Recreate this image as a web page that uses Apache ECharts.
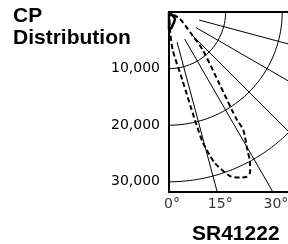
<!DOCTYPE html>
<html>
<head>
<meta charset="utf-8">
<style>
html, body { margin: 0; padding: 0; background: #fff; }
#chart { width: 288px; height: 244px; }
</style>
<script src="https://cdn.jsdelivr.net/npm/echarts@6/dist/echarts.min.js"></script>
</head>
<body>
<div id="chart"></div>
<script>
// candlepower curve, angle in degrees measured from nadir (straight down)
const dashAngles = [0, 3.2, 5.6, 11.1, 13.5, 14.6, 16.9, 20.4, 23.2, 25.0, 26.9, 28.4, 29.6, 32.2, 32.2, 32.7, 34.9, 41.6, 46.4, 57.5, 60];
const dashCd = [0, 3190, 6750, 12240, 19630, 23910, 27890, 30920, 31820, 32170, 31680, 30070, 28030, 24630, 22550, 20580, 15730, 8970, 5120, 2300, 0];

const solidAngles = [0, 0, 8, 18, 28, 40, 40];
const solidCd = [0, 3100, 2900, 2300, 1950, 1650, 0];

const ringValues = [10000, 20000, 30000];
const spokeAngles = [15, 30, 45, 60, 75];
const degreeTicks = [0, 15, 30];

const SPOKE_START = 5500;
const SPOKE_END = 60000;
// grid is 150x180 px, so the two axes share one scale
const Y_MAX = 31800;
const X_MAX = 26500;

const rad = d => d * Math.PI / 180;
// polar (angle from nadir, candela) -> x right, y down
function toXY(cd, deg) {
    return [cd * Math.sin(rad(deg)), cd * Math.cos(rad(deg))];
}

const thin = { color: '#000', width: 1 };
let series = [];

ringValues.forEach(v => {
    let pts = [];
    for (let a = 0; a <= 90; a += 1) pts.push(toXY(v, a));
    series.push({
        type: 'line', data: pts, showSymbol: false, silent: true,
        lineStyle: thin, z: 1
    });
});

spokeAngles.forEach(a => {
    series.push({
        type: 'line', data: [toXY(SPOKE_START, a), toXY(SPOKE_END, a)],
        showSymbol: false, silent: true, lineStyle: thin, z: 1
    });
});

series.push({
    type: 'line',
    data: dashAngles.map((a, i) => toXY(dashCd[i], a)),
    showSymbol: false, smooth: 0.25,
    lineStyle: { color: '#000', width: 2, type: [5, 3] },
    z: 3
});

series.push({
    type: 'line',
    data: solidAngles.map((a, i) => toXY(solidCd[i], a)),
    showSymbol: false, smooth: 0.2,
    lineStyle: { color: '#000', width: 2.5 },
    z: 3
});

// degree labels where the spokes meet the bottom edge
series.push({
    type: 'scatter',
    clip: false,
    symbolSize: 1,
    itemStyle: { color: 'rgba(0,0,0,0)' },
    data: degreeTicks.map(a => ({ name: a + '°', value: [Y_MAX * Math.tan(rad(a)), Y_MAX] })),
    label: {
        show: true, position: 'bottom', distance: 5, offset: [3, 0],
        formatter: '{b}', color: '#000',
        fontFamily: 'DejaVu Sans', fontSize: 14
    },
    z: 4
});

const chart = echarts.init(document.getElementById('chart'));
chart.setOption({
    animation: false,
    backgroundColor: '#fff',
    title: [{
        text: 'CP\nDistribution',
        left: 13, top: 5, padding: 0,
        textStyle: { fontFamily: 'Liberation Sans', fontWeight: 'bold', fontSize: 21, lineHeight: 22, color: '#000' }
    }, {
        text: 'SR41222',
        left: 192, top: 223, padding: 0,
        textStyle: { fontFamily: 'Liberation Sans', fontWeight: 'bold', fontSize: 21, lineHeight: 22, color: '#000' }
    }],
    grid: {
        left: 169, top: 12, width: 150, height: 180,
        outerBoundsMode: 'none', containLabel: false,
        show: true, borderColor: '#000', borderWidth: 2
    },
    xAxis: {
        type: 'value', min: 0, max: X_MAX,
        axisLine: { show: false }, axisTick: { show: false },
        axisLabel: { show: false }, splitLine: { show: false }
    },
    yAxis: {
        type: 'value', inverse: true, min: 0, max: Y_MAX, interval: 10000,
        axisLine: { show: false }, axisTick: { show: false }, splitLine: { show: false },
        axisLabel: {
            margin: 9, color: '#000', fontFamily: 'DejaVu Sans', fontSize: 14,
            showMaxLabel: false,
            formatter: v => v === 0 ? '' : v.toLocaleString('en-US')
        }
    },
    series: series
});
</script>
</body>
</html>
